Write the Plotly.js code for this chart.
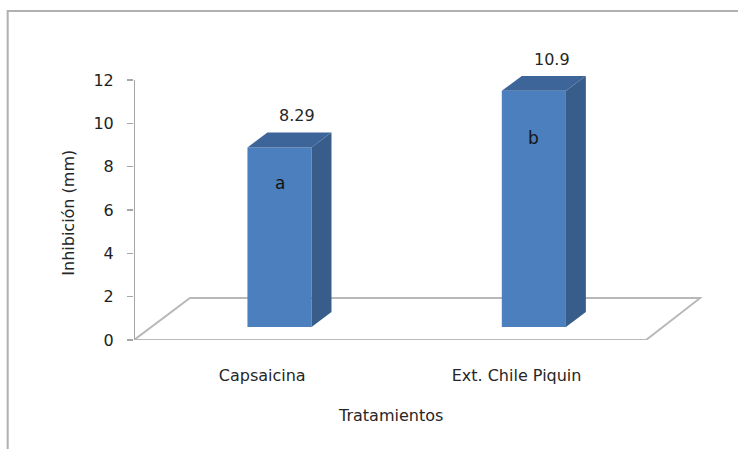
<!DOCTYPE html>
<html>
<head>
<meta charset="utf-8">
<script src="https://cdn.plot.ly/plotly-3.0.1.min.js"></script>
<style>
  html, body { margin: 0; padding: 0; background: #ffffff; }
  #chart { width: 738px; height: 449px; }
</style>
</head>
<body>
<div id="chart"></div>
<script>
// ---- data ----
const categories = ["Capsaicina", "Ext. Chile Piquin"];
const inhibition = [8.29, 10.9];
const groupLetters = ["a", "b"];
const valueLabels = ["8.29", "10.9"];
const yTickVals = [0, 2, 4, 6, 8, 10, 12];

// ---- 3D-look geometry (style only) ----
const BASE = 0.6;      // floor lift of the bar front face (axis units)
const OFF = 0.068;     // horizontal shift of the bar from the category position
const W = 0.252;       // bar width (x units)
const DX = 0.0784;     // depth offset, x units
const DY = 0.69;       // depth offset, y units
const XR = [-0.504, 1.729];
const YMAX = 12.6;     // room above the top tick for the 3D bar tops
const FLOOR_H = 1.94;
const FLOOR_SKEW = 0.22;

const catPos = categories.map((c, i) => i);
const barX = catPos.map(p => p + OFF);
const axisTop = yTickVals[yTickVals.length - 1];

const FONT = "DejaVu Sans, Verdana, sans-serif";
const TXT = "#262626";

const frontFace = {
  type: "bar",
  x: barX,
  y: inhibition,
  base: inhibition.map(() => BASE),
  width: W,
  marker: { color: "#4b7fbd", line: { width: 0 } },
  hoverinfo: "skip",
  showlegend: false
};

const sideX = [], sideY = [], topX = [], topY = [];
inhibition.forEach((v, i) => {
  const xr = barX[i] + W / 2, xl = barX[i] - W / 2, yt = BASE + v;
  sideX.push(xr, xr + DX, xr + DX, xr, xr, null);
  sideY.push(BASE, BASE + DY, yt + DY, yt, BASE, null);
  topX.push(xl, xl + DX, xr + DX, xr, xl, null);
  topY.push(yt, yt + DY, yt + DY, yt, yt, null);
});

const sideFace = {
  type: "scatter", mode: "lines", x: sideX, y: sideY,
  fill: "toself", fillcolor: "#385d8a", line: { width: 0, color: "#385d8a" },
  hoverinfo: "skip", showlegend: false
};
const topFace = {
  type: "scatter", mode: "lines", x: topX, y: topY,
  fill: "toself", fillcolor: "#3e659a", line: { width: 0, color: "#3e659a" },
  hoverinfo: "skip", showlegend: false
};

const floorFrontRight = XR[1] - FLOOR_SKEW;

const annotations = [];
inhibition.forEach((v, i) => {
  annotations.push({
    x: barX[i] + DX * 0.9, y: (BASE + v + DY) / YMAX, xref: "x", yref: "paper",
    text: valueLabels[i], showarrow: false, yanchor: "bottom", yshift: 5,
    font: { family: FONT, size: 16, color: TXT }
  });
  annotations.push({
    x: barX[i], y: BASE + v * 0.8, xref: "x", yref: "y",
    text: groupLetters[i], showarrow: false, yanchor: "middle",
    font: { family: FONT, size: 17, color: "#141414" }
  });
});
annotations.push({
  x: (XR[0] + floorFrontRight) / 2, y: -75 / 273, xref: "x", yref: "paper",
  text: "Tratamientos", showarrow: false, yanchor: "middle",
  font: { family: FONT, size: 16, color: TXT }
});
annotations.push({
  x: -0.1167, y: 127 / 273, xref: "paper", yref: "paper",
  text: "Inhibición (mm)", showarrow: false, textangle: -90,
  xanchor: "center", yanchor: "middle",
  font: { family: FONT, size: 16, color: TXT }
});

const floorPath = "M " + XR[0] + " 0 L " + (XR[0] + FLOOR_SKEW) + " " + FLOOR_H +
  " L " + (XR[1] - 0.007) + " " + FLOOR_H + " L " + floorFrontRight + " 0 Z";

const layout = {
  width: 738, height: 449,
  margin: { l: 134, r: 36, t: 67, b: 109 },
  paper_bgcolor: "#ffffff", plot_bgcolor: "rgba(0,0,0,0)",
  showlegend: false,
  hovermode: false,
  xaxis: {
    range: XR, tickvals: catPos, ticktext: categories,
    showgrid: false, zeroline: false, showline: false,
    ticks: "outside", ticklen: 21, tickcolor: "rgba(0,0,0,0)",
    tickfont: { family: FONT, size: 16, color: TXT },
    fixedrange: true
  },
  yaxis: {
    range: [0, YMAX], tickvals: yTickVals,
    showgrid: false, zeroline: false, showline: false,
    ticks: "outside", ticklen: 6, tickcolor: "#a6a6a6", tickwidth: 1.5,
    ticklabelstandoff: 10,
    tickfont: { family: FONT, size: 16, color: "#1e1e1e" },
    fixedrange: true
  },
  shapes: [
    { type: "path", path: floorPath, xref: "x", yref: "y", layer: "below",
      line: { color: "#b8b8b8", width: 2 }, fillcolor: "rgba(255,255,255,0)" },
    { type: "line", xref: "x", yref: "y", layer: "below",
      x0: XR[0], x1: XR[0], y0: 0, y1: axisTop,
      line: { color: "#a6a6a6", width: 2 } },
    { type: "rect", xref: "paper", yref: "paper", layer: "below",
      x0: -0.2224, x1: 1.08, y0: -0.45, y1: 1.205,
      line: { color: "#b0b0b0", width: 2 }, fillcolor: "rgba(0,0,0,0)" }
  ],
  annotations: annotations
};

Plotly.newPlot("chart", [frontFace, sideFace, topFace], layout, { displayModeBar: false, staticPlot: true });
</script>
</body>
</html>
